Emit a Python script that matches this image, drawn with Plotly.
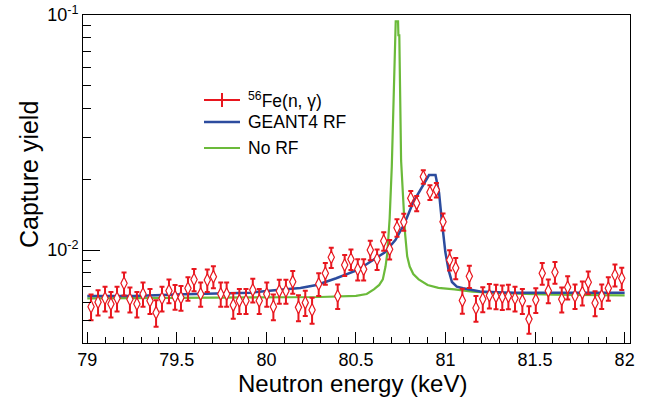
import plotly.graph_objects as go
import math

# ---------------- data ----------------
energy = [79.021, 79.060, 79.099, 79.132, 79.166, 79.205, 79.238, 79.277, 79.311, 79.350,
          79.384, 79.417, 79.456, 79.490, 79.523, 79.562, 79.596, 79.633, 79.670, 79.704,
          79.745, 79.778, 79.815, 79.849, 79.886, 79.924, 79.960, 80.002, 80.039, 80.072,
          80.109, 80.147, 80.179, 80.217, 80.255, 80.292, 80.329, 80.362, 80.398, 80.437,
          80.472, 80.510, 80.543, 80.580, 80.618, 80.655, 80.688, 80.729, 80.767, 80.806,
          80.839, 80.876, 80.913, 80.949, 80.986, 81.023, 81.057, 81.094, 81.133, 81.170,
          81.208, 81.245, 81.282, 81.317, 81.351, 81.388, 81.429, 81.466, 81.504, 81.540,
          81.574, 81.611, 81.649, 81.682, 81.723, 81.764, 81.797, 81.835, 81.872, 81.909,
          81.946, 81.984]

capture_yield = [0.00574, 0.00600, 0.00623, 0.00589, 0.00623, 0.00722, 0.00617, 0.00589, 0.00650, 0.00608,
                 0.00541, 0.00623, 0.00671, 0.00633, 0.00627, 0.00687, 0.00749, 0.00650, 0.00745, 0.00770,
                 0.00650, 0.00650, 0.00583, 0.00608, 0.00608, 0.00676, 0.00608, 0.00650, 0.00574, 0.00669,
                 0.00669, 0.00733, 0.00570, 0.00597, 0.00556, 0.00717, 0.00796, 0.00931, 0.00637, 0.00863,
                 0.00913, 0.00828, 0.00828, 0.01000, 0.00913, 0.01092, 0.01007, 0.01244, 0.01316, 0.01660,
                 0.01580, 0.02050, 0.01760, 0.01800, 0.01320, 0.00907, 0.00838, 0.00610, 0.00773, 0.00566,
                 0.00619, 0.00640, 0.00635, 0.00631, 0.00635, 0.00623, 0.00608, 0.00508, 0.00613, 0.00796,
                 0.00671, 0.00804, 0.00617, 0.00694, 0.00637, 0.00658, 0.00729, 0.00595, 0.00637, 0.00687,
                 0.00783, 0.00758]

capture_err = [0.00072, 0.00074, 0.00075, 0.00073, 0.00075, 0.00081, 0.00075, 0.00073, 0.00077, 0.00074,
               0.00070, 0.00075, 0.00078, 0.00076, 0.00075, 0.00079, 0.00082, 0.00077, 0.00082, 0.00083,
               0.00077, 0.00077, 0.00073, 0.00074, 0.00074, 0.00078, 0.00074, 0.00077, 0.00072, 0.00078,
               0.00078, 0.00081, 0.00072, 0.00073, 0.00071, 0.00080, 0.00085, 0.00092, 0.00076, 0.00088,
               0.00091, 0.00086, 0.00086, 0.00095, 0.00091, 0.00099, 0.00095, 0.00106, 0.00109, 0.00122,
               0.00119, 0.00136, 0.00126, 0.00127, 0.00109, 0.00090, 0.00087, 0.00074, 0.00084, 0.00071,
               0.00075, 0.00076, 0.00076, 0.00075, 0.00076, 0.00075, 0.00074, 0.00068, 0.00074, 0.00085,
               0.00078, 0.00085, 0.00075, 0.00079, 0.00076, 0.00077, 0.00081, 0.00073, 0.00076, 0.00079,
               0.00084, 0.00083]

geant_energy = [79.00, 79.26, 79.54, 79.91, 80.06, 80.19, 80.28, 80.39, 80.51, 80.58,
                80.66, 80.72, 80.77, 80.82, 80.88, 80.908, 80.944, 80.964, 80.980, 80.999,
                81.017, 81.036, 81.063, 81.098, 81.193, 81.383, 81.64, 82.00]
geant_yield = [0.00637, 0.00637, 0.00648, 0.00658, 0.00676, 0.00689, 0.00710, 0.00758, 0.00822, 0.00889,
               0.00976, 0.01103, 0.01290, 0.01600, 0.01920, 0.02085, 0.02085, 0.01748, 0.01316, 0.00980,
               0.00822, 0.00731, 0.00698, 0.00687, 0.00666, 0.00657, 0.00657, 0.00657]

norf_energy = [79.00, 79.50, 80.00, 80.30, 80.50, 80.56, 80.60, 80.63, 80.65, 80.665,
               80.675, 80.688, 80.700, 80.710, 80.718, 80.722, 80.735, 80.737, 80.742, 80.745,
               80.752, 80.764, 80.774, 80.786, 80.800, 80.820, 80.850, 80.900, 80.960, 81.050,
               81.150, 81.330, 81.600, 82.000]
norf_yield = [0.00622, 0.00624, 0.00627, 0.00631, 0.00638, 0.00650, 0.00680, 0.00710, 0.00750, 0.00850,
              0.00970, 0.01360, 0.02260, 0.04000, 0.07500, 0.09400, 0.09400, 0.08200, 0.08200, 0.05000,
              0.02400, 0.01630, 0.01180, 0.00940, 0.00850, 0.00790, 0.00750, 0.00710, 0.00690, 0.00680,
              0.00665, 0.00654, 0.00645, 0.00641]

x_tick_vals = [79, 79.5, 80, 80.5, 81, 81.5, 82]
x_tick_text = ["79", "79.5", "80", "80.5", "81", "81.5", "82"]
y_tick_vals = [0.01, 0.1]
y_tick_text = ["10<sup>-2</sup>", "10<sup>-1</sup>"]
y_minor_vals = [0.005, 0.006, 0.007, 0.008, 0.009, 0.02, 0.03, 0.04, 0.05, 0.06, 0.07, 0.08, 0.09]

legend_labels = ["<sup>56</sup>Fe(n, \u03b3)", "GEANT4 RF", "No RF"]

RED = "#e8161e"
BLUE = "#2c4c9e"
GREEN = "#6bba3a"
FONT = "Liberation Sans, Arial, Helvetica, sans-serif"

# ---------------- layout geometry ----------------
W, H = 646, 405
L, R, T, B = 83, 16, 15, 62
PW, PH = W - L - R, H - T - B


def px(x):
    return (x - L) / PW


def py(y):
    return (H - B - y) / PH


fig = go.Figure()

fig.add_trace(go.Scatter(x=norf_energy, y=norf_yield, mode="lines",
                         line=dict(color=GREEN, width=2.2), showlegend=False))
fig.add_trace(go.Scatter(x=geant_energy, y=geant_yield, mode="lines",
                         line=dict(color=BLUE, width=2.5), showlegend=False))
fig.add_trace(go.Scatter(x=energy, y=capture_yield, mode="markers",
                         marker=dict(symbol="diamond-tall", size=9, color="white",
                                     line=dict(color=RED, width=1.2)),
                         error_y=dict(type="data", array=capture_err, color=RED,
                                      thickness=2, width=2.5),
                         showlegend=False))

fig.update_xaxes(range=[78.976, 82.03], showline=True, mirror=True, linecolor="black", linewidth=1,
                 showgrid=False, zeroline=False, ticks="inside", ticklen=11, tickcolor="black",
                 tickmode="array", tickvals=x_tick_vals, ticktext=x_tick_text, automargin=False,
                 tickfont=dict(size=18, family=FONT, color="black"),
                 minor=dict(ticks="inside", ticklen=6, dtick=0.1, tick0=79, tickcolor="black",
                            showgrid=False))
fig.update_yaxes(type="log", range=[math.log10(0.00402), -1], showline=True, mirror=True,
                 linecolor="black", linewidth=1, showgrid=False, zeroline=False,
                 ticks="inside", ticklen=17, tickcolor="black", automargin=False,
                 tickmode="array", tickvals=y_tick_vals, ticktext=y_tick_text,
                 tickfont=dict(size=18, family=FONT, color="black"),
                 minor=dict(ticks="inside", ticklen=8, tickmode="array", tickvals=y_minor_vals,
                            tickcolor="black", showgrid=False))

shapes = []
annotations = []
# axis titles
annotations.append(dict(text="Neutron energy (keV)", xref="paper", yref="paper",
                        x=px(352), y=py(383), showarrow=False, xanchor="center", yanchor="middle",
                        font=dict(size=24, family=FONT, color="black")))
annotations.append(dict(text="Capture yield", xref="paper", yref="paper", textangle=-90,
                        x=px(29), y=py(175), showarrow=False, xanchor="center", yanchor="middle",
                        font=dict(size=25, family=FONT, color="black")))

# legend (drawn by hand, ROOT style)
leg_y = [100, 122, 148]
leg_colors = [RED, BLUE, GREEN]
for i, (lab, col, yy) in enumerate(zip(legend_labels, leg_colors, leg_y)):
    shapes.append(dict(type="line", xref="paper", yref="paper", x0=px(204), x1=px(240),
                       y0=py(yy), y1=py(yy), line=dict(color=col, width=2.2 if i != 1 else 2.5)))
    if i == 0:
        shapes.append(dict(type="line", xref="paper", yref="paper", x0=px(222), x1=px(222),
                           y0=py(yy - 7), y1=py(yy + 7), line=dict(color=col, width=2)))
    annotations.append(dict(text=lab, xref="paper", yref="paper", x=px(246), y=py(yy),
                            showarrow=False, xanchor="left", yanchor="middle",
                            font=dict(size=17.5, family=FONT, color="black")))

fig.update_layout(width=W, height=H, margin=dict(l=L, r=R, t=T, b=B, pad=0, autoexpand=False),
                  paper_bgcolor="white", plot_bgcolor="white",
                  shapes=shapes, annotations=annotations, showlegend=False,
                  font=dict(family=FONT, color="black"))

fig.write_html("out.html", config={"displayModeBar": False},
               post_script="document.body.style.margin='0';document.body.style.padding='0';"
                           "document.documentElement.style.overflow='hidden';")
